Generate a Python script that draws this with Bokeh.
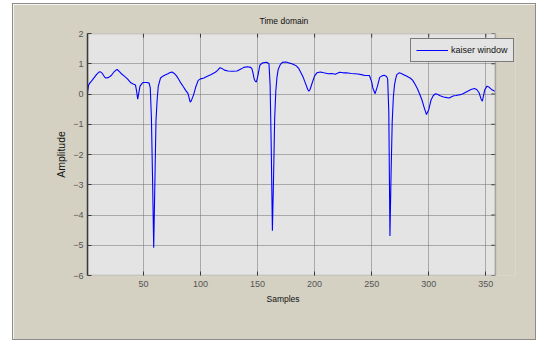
from bokeh.plotting import figure
from bokeh.models import (Range1d, FixedTicker, Legend, LegendItem, BoxAnnotation, Title)
from bokeh.embed import file_html
from bokeh.resources import INLINE

# sample index / amplitude
samples = [1, 2, 3, 5, 7, 9, 11, 12, 14, 16, 17, 19, 20, 22, 24, 26, 27, 29, 31, 33,
           36, 39, 41, 43, 44, 45, 46, 47, 49, 50, 53, 55, 56, 57, 58, 59, 60, 61, 62, 63,
           65, 67, 69, 71, 73, 75, 77, 79, 81, 83, 85, 87, 89, 91, 92, 94, 96, 98, 100, 103,
           106, 109, 111, 113, 115, 117, 119, 121, 124, 128, 132, 135, 138, 141, 144, 145, 146, 147, 148, 149,
           150, 151, 152, 154, 156, 158, 160, 161, 162, 163, 164, 165, 166, 167, 168, 170, 172, 174, 176, 178,
           180, 182, 184, 186, 188, 190, 192, 194, 195, 196, 198, 200, 202, 205, 208, 212, 215, 218, 222, 225,
           228, 232, 235, 238, 241, 244, 248, 250, 251, 253, 255, 257, 259, 261, 263, 264, 265, 266, 267, 268,
           269, 270, 271, 272, 274, 276, 278, 280, 282, 284, 286, 288, 290, 292, 294, 296, 298, 300, 302, 304,
           306, 308, 310, 313, 316, 318, 320, 322, 324, 326, 328, 330, 332, 335, 337, 340, 342, 344, 346, 347,
           348, 349, 351, 353, 355, 357, 358]
amplitude = [0.05, 0.30, 0.36, 0.45, 0.55, 0.65, 0.72, 0.74, 0.68, 0.56, 0.53, 0.54, 0.56, 0.62, 0.72, 0.79, 0.81, 0.74, 0.66, 0.60,
             0.50, 0.37, 0.33, 0.30, 0.10, -0.17, 0.05, 0.26, 0.36, 0.38, 0.38, 0.36, 0.20, -0.8, -2.8, -5.08, -3.0, -0.9, -0.2, 0.25,
             0.53, 0.59, 0.63, 0.66, 0.70, 0.73, 0.68, 0.60, 0.48, 0.35, 0.24, 0.12, 0.02, -0.27, -0.22, -0.02, 0.25, 0.45, 0.50, 0.53,
             0.59, 0.64, 0.68, 0.72, 0.78, 0.87, 0.84, 0.79, 0.76, 0.75, 0.76, 0.82, 0.88, 0.90, 0.88, 0.84, 0.70, 0.50, 0.42, 0.40,
             0.55, 0.75, 0.95, 1.02, 1.04, 1.05, 1.00, 0.30, -1.8, -4.52, -2.8, -0.8, 0.10, 0.55, 0.80, 0.98, 1.05, 1.06, 1.05, 1.02,
             1.00, 0.97, 0.93, 0.85, 0.70, 0.55, 0.35, 0.15, 0.09, 0.15, 0.38, 0.60, 0.70, 0.73, 0.70, 0.67, 0.68, 0.65, 0.72, 0.70,
             0.70, 0.68, 0.67, 0.66, 0.64, 0.61, 0.61, 0.40, 0.20, 0.01, 0.25, 0.55, 0.60, 0.62, 0.58, 0.50, -0.6, -4.69, -2.6, -0.9,
             -0.1, 0.30, 0.50, 0.64, 0.70, 0.68, 0.64, 0.60, 0.56, 0.52, 0.45, 0.32, 0.18, 0.00, -0.19, -0.45, -0.68, -0.52, -0.20, -0.05,
             0.01, -0.02, -0.06, -0.10, -0.12, -0.13, -0.09, -0.06, -0.05, -0.03, -0.02, 0.01, 0.05, 0.11, 0.15, 0.18, 0.15, 0.05, -0.18, -0.24,
             -0.05, 0.13, 0.26, 0.22, 0.15, 0.11, 0.09]

x_ticks = [50, 100, 150, 200, 250, 300, 350]
y_ticks = [-6, -5, -4, -3, -2, -1, 0, 1, 2]
title_text = "Time domain"
x_label = "Samples"
y_label = "Amplitude"
series_name = "kaiser window"

X_MIN, X_MAX = 1, 358.4      # axes limits
Y_MIN, Y_MAX = -6, 2

FONT = "Liberation Sans"
BEIGE = "#d4d0c2"
PLOTBG = "#e4e4e4"
DARK = "#3a3a3a"

# the frame is extended to the right so the legend may stick out past the axes box
PX_PER_X = 1.1413
FRAME_W = 428
x_end_frame = X_MIN + FRAME_W / PX_PER_X

p = figure(width=524, height=337, output_backend="svg", toolbar_location=None,
           x_range=Range1d(X_MIN, x_end_frame), y_range=Range1d(Y_MIN, Y_MAX),
           margin=(3, 0, 0, 12),
           min_border_left=74, min_border_right=22, min_border_top=29, min_border_bottom=66,
           background_fill_color=BEIGE, border_fill_color=BEIGE,
           outline_line_color=None,
           styles={"border": "1px solid #8c8c8c"})

p.title.text = title_text
p.title.align = "left"
p.title.offset = 172
p.title.text_font = FONT
p.title.text_font_size = "8.5px"
p.title.text_font_style = "normal"
p.title.text_color = "#111111"
p.title.standoff = 16

# grey axes background (drawn below the grid)
p.add_layout(BoxAnnotation(right=X_MAX, fill_color=PLOTBG, fill_alpha=1, line_color=None,
                           level="image"))

line = p.line(samples, amplitude, line_color="#0000ff", line_width=1.1)

for ax in (p.xaxis[0], p.yaxis[0]):
    ax.major_tick_in = 4
    ax.major_tick_out = 0
    ax.minor_tick_line_color = None
    ax.axis_line_color = DARK
    ax.axis_line_width = 1.5
    ax.major_tick_line_color = DARK
    ax.major_label_text_font = FONT
    ax.major_label_text_font_size = "9px"
    ax.major_label_text_color = "#555555"
    ax.axis_label_text_font = FONT
    ax.axis_label_text_font_size = "10.5px"
    ax.axis_label_text_font_style = "normal"
    ax.axis_label_text_color = "#111111"

p.xaxis[0].axis_line_color = None
p.xaxis[0].ticker = FixedTicker(ticks=x_ticks)
p.yaxis[0].ticker = FixedTicker(ticks=y_ticks)
p.yaxis[0].axis_label = y_label
p.xaxis[0].major_label_standoff = 5
p.yaxis[0].major_label_standoff = 4
p.yaxis[0].axis_label_standoff = 3

xl = Title(text=x_label, align="left", offset=179, text_font=FONT, text_font_size="8.5px",
           text_font_style="normal", text_color="#111111", standoff=5)
p.add_layout(xl, "below")

p.xgrid.ticker = FixedTicker(ticks=x_ticks)
p.ygrid.ticker = FixedTicker(ticks=y_ticks)
for g in (p.xgrid[0], p.ygrid[0]):
    g.grid_line_color = "#6e6e6e"
    g.grid_line_dash = "1 1"
    g.grid_line_width = 1

# beige area right of the axes box (hides the grid there)
p.add_layout(BoxAnnotation(left=X_MAX, fill_color=BEIGE, fill_alpha=1,
                           line_color=BEIGE, line_width=3))
# axes box
p.add_layout(BoxAnnotation(right=X_MAX, fill_color=None, line_color=DARK, line_width=1.5))

# inner tick marks on the top and right edges
tick_dx = 4 / PX_PER_X
tick_dy = 4 / (241.4 / (Y_MAX - Y_MIN))
p.segment(x0=x_ticks, y0=[Y_MAX] * len(x_ticks), x1=x_ticks, y1=[Y_MAX - tick_dy] * len(x_ticks),
          line_color=DARK, line_width=1)
p.segment(x0=[X_MAX] * len(y_ticks), y0=y_ticks, x1=[X_MAX - tick_dx] * len(y_ticks), y1=y_ticks,
          line_color=DARK, line_width=1)

legend = Legend(items=[LegendItem(label=series_name, renderers=[line])],
                location=(323, 213), orientation="vertical",
                background_fill_color=PLOTBG, background_fill_alpha=1,
                border_line_color="#111111", border_line_width=1.5,
                label_text_font=FONT, label_text_font_size="9px",
                label_text_color="#111111",
                glyph_width=32, glyph_height=12, label_standoff=3,
                padding=5, margin=0, spacing=0, label_height=12)
p.add_layout(legend, "center")

open("out.html", "w").write(file_html(p, INLINE))
